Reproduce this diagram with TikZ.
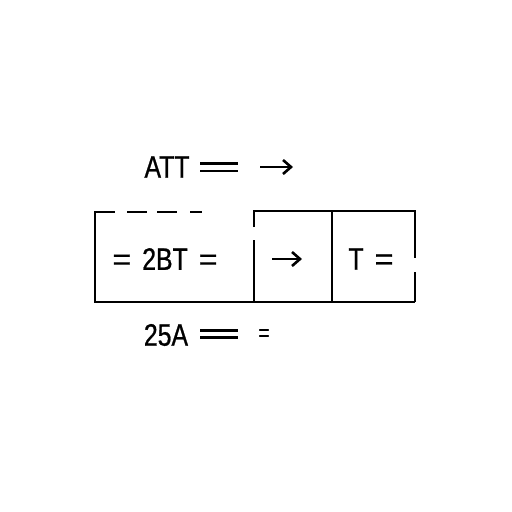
\documentclass[tikz,border=0pt]{standalone}
\usepackage{fontspec}
\usepackage{graphicx}
\usetikzlibrary{arrows.meta}
\setmainfont{Liberation Sans}[FakeStretch=0.8,FakeBold=0.8]
\newcommand{\weq}{\scalebox{1.3}[1]{=}}
\begin{document}
\begin{tikzpicture}[x=1pt,y=-1pt,
  lbl/.style={inner sep=0pt,font=\fontsize{31}{34}\selectfont},
  arr/.style={line width=2.6pt,-{Straight Barb[length=8pt,width=14pt]}},
  frame/.style={line width=2.6pt},
  bar/.style={line width=2.8pt}]
\useasboundingbox[fill=white] (0,0) rectangle (512,512);
% top label
\node[lbl] (att) at (167,167) {ATT};
\draw[bar] (200,163.3) -- (238,163.3) (200,171) -- (238,171);
\coordinate (a1s) at (260,167);
\coordinate (a1e) at (293,167);
\draw[arr] (a1s) -- (a1e);
% frame
\draw[frame] (95,211) -- (95,302) -- (415,302);
\draw[frame] (95,212) -- (115,212);
\draw[frame] (127,212) -- (147,212);
\draw[frame] (157,212) -- (177,212);
\draw[frame] (190,212) -- (202,212);
\draw[frame] (254,227) -- (254,211) -- (415,211) -- (415,258);
\draw[frame] (415,272) -- (415,302);
\draw[frame] (254,240) -- (254,302);
\draw[frame] (332,211) -- (332,302);
\node[lbl] (b2) at (165,259) {\weq\hspace{11pt}2BT\hspace{11pt}\weq};
\coordinate (a2s) at (272,259);
\coordinate (a2e) at (302,259);
\draw[arr] (a2s) -- (a2e);
\node[lbl] (t) at (371,259) {T\hspace{11pt}\weq};
% bottom label
\node[lbl] (a25) at (166,335) {25A};
\draw[bar] (200,330.7) -- (238,330.7) (200,337.7) -- (238,337.7);
\node[lbl,font=\fontsize{24}{26}\selectfont] (eq) at (264,335) {=};
\end{tikzpicture}
\end{document}
